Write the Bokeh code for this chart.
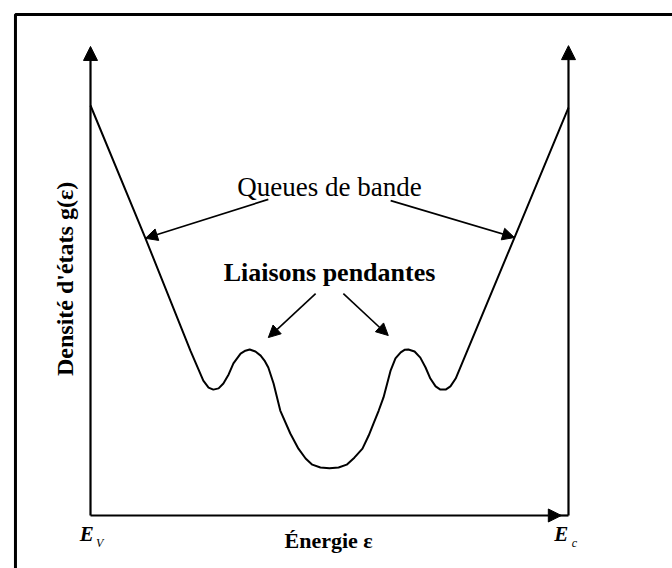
from bokeh.plotting import figure
from bokeh.models import Range1d, Arrow, NormalHead, BoxAnnotation, Label
from bokeh.embed import file_html
from bokeh.resources import INLINE

# Density of states g(E) across the gap, from E_V (0) to E_C (1), arbitrary units
energy = [0.000, 0.115, 0.209, 0.236, 0.247, 0.257, 0.268, 0.278, 0.289, 0.299,
          0.314, 0.324, 0.333, 0.345, 0.356, 0.364, 0.372, 0.383, 0.397, 0.418,
          0.435, 0.450, 0.464, 0.481, 0.500, 0.519, 0.536, 0.552, 0.569, 0.582,
          0.592, 0.603, 0.613, 0.628, 0.638, 0.649, 0.657, 0.665, 0.678, 0.690,
          0.701, 0.711, 0.722, 0.732, 0.743, 0.753, 0.764, 0.887, 1.000]
density = [1.000, 0.676, 0.402, 0.329, 0.312, 0.307, 0.310, 0.322, 0.344, 0.371,
           0.395, 0.402, 0.405, 0.400, 0.390, 0.378, 0.361, 0.322, 0.256, 0.200,
           0.163, 0.139, 0.124, 0.117, 0.115, 0.117, 0.124, 0.141, 0.163, 0.195,
           0.224, 0.256, 0.288, 0.354, 0.383, 0.398, 0.404, 0.405, 0.400, 0.385,
           0.361, 0.334, 0.315, 0.307, 0.307, 0.315, 0.334, 0.678, 0.995]

# Annotation arrows: (x_start, y_start, x_end, y_end)
tail_arrows = [(0.372, 0.771, 0.115, 0.676), (0.628, 0.768, 0.887, 0.678)]
dangling_arrows = [(0.471, 0.541, 0.372, 0.434), (0.529, 0.541, 0.623, 0.439)]

label_tails = "Queues de bande"
label_dangling = "Liaisons pendantes"
label_x = "Énergie  ε"
label_y = "Densité d'états g(ε)"

SERIF = "Liberation Serif"

p = figure(width=672, height=568, output_backend="svg", toolbar_location=None,
           x_range=Range1d(-0.1883, 1.2176), y_range=Range1d(-0.1293, 1.2561),
           x_axis_location=None, y_axis_location=None, min_border=0)
p.grid.visible = False
p.outline_line_color = None
p.background_fill_color = "white"
p.border_fill_color = "white"

# outer frame
p.add_layout(BoxAnnotation(left=-0.157, top=1.222, right=5, bottom=-5,
                           fill_alpha=0, line_color="black", line_alpha=1,
                           line_width=3))

# axes drawn as arrows
def head(size):
    return NormalHead(size=size, fill_color="black", line_color="black", line_width=1)

p.add_layout(Arrow(end=head(14), x_start=0, y_start=0, x_end=0, y_end=1.144,
                   line_width=2.2, line_color="black"))
p.add_layout(Arrow(end=head(14), x_start=1, y_start=0, x_end=1, y_end=1.146,
                   line_width=2.2, line_color="black"))
p.add_layout(Arrow(end=head(13), x_start=0, y_start=0, x_end=0.985, y_end=0,
                   line_width=2.2, line_color="black"))
p.line([0.98, 1.0], [0, 0], line_width=2.2, line_color="black")

# density of states curve
p.line(energy, density, line_width=2, line_color="black")

for xs, ys, xe, ye in tail_arrows + dangling_arrows:
    p.add_layout(Arrow(end=head(12), x_start=xs, y_start=ys, x_end=xe, y_end=ye,
                       line_width=1.6, line_color="black"))

p.add_layout(Label(x=0.5, y=0.80, text=label_tails, text_font=SERIF,
                   text_font_size="27px", text_align="center", text_baseline="middle",
                   text_color="black"))
p.add_layout(Label(x=0.5, y=0.593, text=label_dangling, text_font=SERIF,
                   text_font_size="26px", text_font_style="bold", text_align="center",
                   text_baseline="middle", text_color="black"))
p.add_layout(Label(x=0.504, y=-0.061, text=label_x, text_font=SERIF,
                   text_font_size="22px", text_font_style="bold", text_align="center",
                   text_baseline="middle", text_color="black"))
p.add_layout(Label(x=-0.054, y=0.577, text=label_y, text_font=SERIF,
                   text_font_size="24px", text_font_style="bold", text_align="center",
                   text_baseline="middle", angle=90, angle_units="deg",
                   text_color="black"))

# band edge labels E_V and E_c
for ex, sx, sub in [(-0.008, 0.019, "V"), (0.985, 1.0125, "c")]:
    p.add_layout(Label(x=ex, y=-0.044, text="E", text_font=SERIF, text_font_size="21px",
                       text_font_style="bold italic", text_align="center",
                       text_baseline="middle", text_color="black"))
    p.add_layout(Label(x=sx, y=-0.068, text=sub, text_font=SERIF, text_font_size="12px",
                       text_font_style="italic", text_align="center",
                       text_baseline="middle", text_color="black"))

open("out.html", "w").write(file_html(p, INLINE))
